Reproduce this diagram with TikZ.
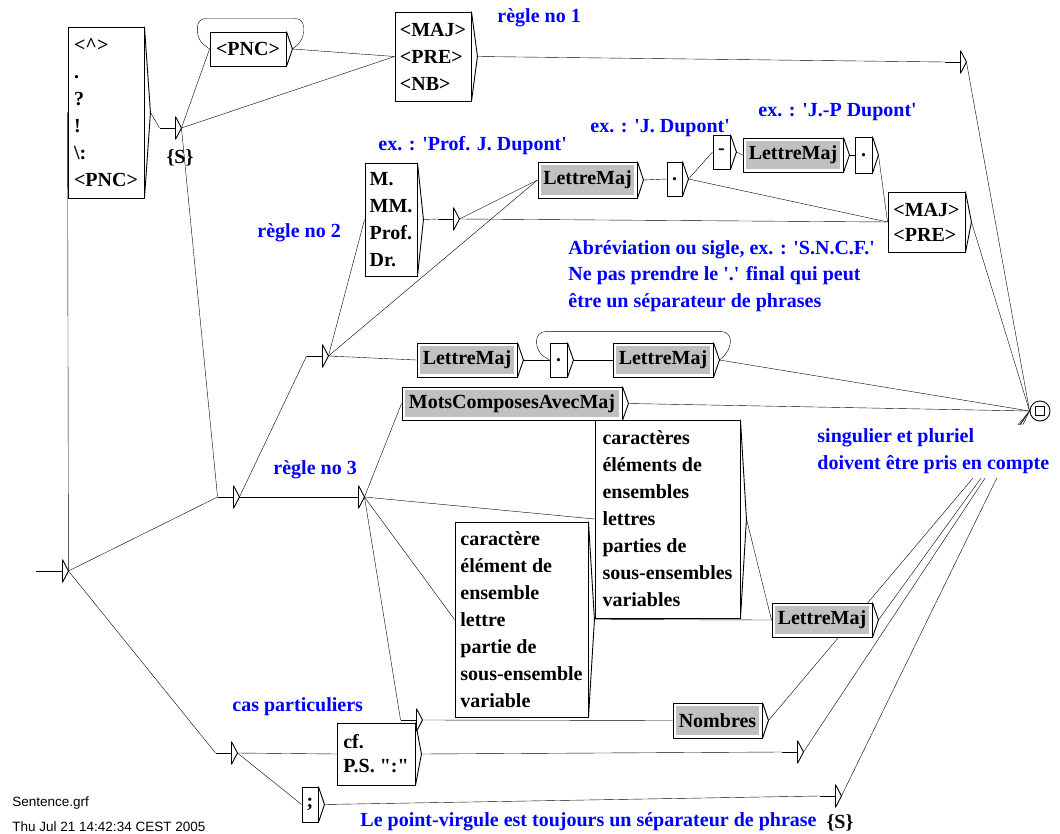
\documentclass[tikz,border=0pt]{standalone}
\usepackage{fontspec}
\setmainfont{Liberation Serif}[Ligatures=TeXOff]
\newfontfamily\footfont{Liberation Sans}
\usepackage{tikz}
\usetikzlibrary{backgrounds}
\definecolor{NoteBlue}{RGB}{0,0,255}
\definecolor{SubGray}{RGB}{192,192,192}
\newcommand{\bxfont}{\fontsize{20}{27}\selectfont\bfseries}

\tikzset{
  box/.style={draw, fill=white, inner sep=0pt, align=left, font=\bxfont},
  sub/.style={box, path picture={\fill[SubGray]
      ([xshift=3pt,yshift=-3pt]path picture bounding box.north west) rectangle
      ([xshift=-3pt,yshift=3pt]path picture bounding box.south east);}},
  eps/.style={minimum width=15pt, minimum height=22pt, inner sep=0pt},
  note/.style={text=NoteBlue, font=\bxfont, align=left, inner sep=0pt, anchor=west},
  sz/.style 2 args={minimum width=#1pt, minimum height=#2pt}
}

\begin{document}
\begin{tikzpicture}[x=1pt, y=-1pt, line width=0.9pt]
\useasboundingbox (0,0) rectangle (1060,834);

% boites
\node[box, sz={76}{171}] (punct) at (106,112.5) {<\textasciicircum>\\.\\?\\!\\\textbackslash:\\<PNC>};
\node[box, sz={76}{34}] (pnc) at (248,49) {<PNC>};
\node[box, sz={76}{89}] (majpre) at (433,56.5) {<MAJ>\\<PRE>\\<NB>};
\node[box, sz={52}{113}] (titres) at (391,219.5) {M.\\MM.\\Prof.\\Dr.};
\node[sub, sz={99}{36}] (lm1) at (587.5,180) {LettreMaj};
\node[box, sz={15}{34}] (pt1) at (674.5,179) {.};
\node[box, sz={17}{34}] (tiret) at (721.5,152) {-};
\node[sub, sz={100}{34}] (lm2) at (793,155) {LettreMaj};
\node[box, sz={17}{36}] (pt2) at (863.5,155) {.};
\node[box, sz={77}{60}] (majpre2) at (926.5,222) {<MAJ>\\[-2pt]<PRE>};
\node[sub, sz={100}{34}] (lm3) at (467,360) {LettreMaj};
\node[box, sz={17}{34}] (pt3) at (558.5,360) {.};
\node[sub, sz={100}{34}] (lm4) at (663,360) {LettreMaj};
\node[sub, sz={220}{33}] (mcomp) at (512,403.5) {MotsComposesAvecMaj};
\node[box, sz={145}{198}] (pluriel) at (667.5,519) {caractères\\éléments de\\ensembles\\lettres\\parties de\\sous-ensembles\\variables};
\node[box, sz={133}{195}] (singulier) at (521.5,619.5) {caractère\\élément de\\ensemble\\lettre\\partie de\\sous-ensemble\\variable};
\node[sub, sz={100}{34}] (lm5) at (822,620) {LettreMaj};
\node[sub, sz={89}{35}] (nombres) at (717.5,720.5) {Nombres};
\node[box, sz={78}{62}] (cf) at (376,754) {cf.\\[-3pt]P.S. ":"};
\node[box, sz={16}{35}] (pv) at (310,804.5) {;};
\node[circle, draw, minimum size=20pt, inner sep=0pt] (fin) at (1040,411) {};
\draw ([shift={(-4.5pt,-4.5pt)}]fin.center) rectangle ([shift={(4.5pt,4.5pt)}]fin.center);

% boites vides
\node[eps, minimum width=26pt] (e0) at (49,571) {};
\foreach \n/\x/\y in {e1/167.5/128, e2/952.5/62, e3/225.5/497, e4/314.5/356,
    e5/445.5/219, e6/350.5/497, e7/223.5/753, e8/408.5/720, e9/789.5/752, e10/827.5/796}
  \node[eps] (\n) at (\x,\y) {};
\foreach \n in {e0,e1,e2,e3,e4,e5,e6,e7,e8,e9,e10}
  \draw (\n.west) -- (\n.east) (\n.north east) -- (\n.south east);

% sorties
\foreach \n in {punct,pnc,majpre,titres,lm1,pt1,tiret,lm2,pt2,majpre2,lm3,pt3,lm4,mcomp,
    pluriel,singulier,lm5,nombres,cf,pv,e0,e1,e2,e3,e4,e5,e6,e7,e8,e9,e10}
  \draw (\n.north east) -- ([xshift=6pt]\n.east) -- (\n.south east);

% transitions
\begin{scope}[on background layer]
\foreach \a/\b in {e0/punct, e0/e3, e0/e7, punct/e1, e1/pnc, e1/majpre, e1/e3, pnc/majpre,
    majpre/e2, e3/e4, e3/e6, e4/titres, e4/lm1, e4/lm3, titres/e5, e5/lm1, e5/majpre2,
    lm1/pt1, pt1/tiret, pt1/majpre2, tiret/lm2, lm2/pt2, pt2/majpre2, lm3/pt3, pt3/lm4,
    e6/mcomp, e6/pluriel, e6/singulier, e6/e8, pluriel/lm5, singulier/lm5, e8/nombres,
    e7/cf, e7/pv, cf/e9, pv/e10}
  \draw ([xshift=6pt]\a.east) -- (\b.west);
\foreach \a in {e2,majpre2,lm4,mcomp,lm5,nombres,e9,e10}
  \draw ([xshift=6pt]\a.east) -- (fin.west);
% boucles
\draw[rounded corners=8pt] ([xshift=6pt]pnc.east) -- ([xshift=17pt,yshift=9pt]pnc.east)
  -- ([xshift=17pt,yshift=13pt]pnc.north east) -- ([xshift=-12pt,yshift=13pt]pnc.north west)
  -- ([xshift=-12pt,yshift=9pt]pnc.west) -- (pnc.west);
\draw[rounded corners=9pt] ([xshift=6pt]lm4.east) -- ([xshift=17pt,yshift=10pt]lm4.east)
  -- ([xshift=17pt,yshift=11pt]lm4.north east) -- ([xshift=-13pt,yshift=11pt]pt3.north west)
  -- ([xshift=-13pt,yshift=8pt]pt3.west) -- (pt3.west);
\end{scope}

% sorties {S}
\node[font=\bxfont, inner sep=0pt] (s1out) at (180,158) {\{S\}};
\node[font=\bxfont, inner sep=0pt] (s2out) at (840,823) {\{S\}};

% commentaires
\node[note] (r1) at (497,18) {règle no 1};
\node[note] (r2) at (257,233) {règle no 2};
\node[note] (r3) at (273,470) {règle no 3};
\node[note] (ex1) at (378,146) {ex. : 'Prof. J. Dupont'};
\node[note] (ex2) at (590,128) {ex. : 'J. Dupont'};
\node[note] (ex3) at (758,112) {ex. : 'J.-P Dupont'};
\node[note, font=\fontsize{20}{26.5}\selectfont\bfseries] (abrev) at (568,276)
  {Abréviation ou sigle, ex. : 'S.N.C.F.'\\Ne pas prendre le '.' final qui peut\\être un séparateur de phrases};
\node[note, fill=white, inner ysep=4pt] (nombre) at (817,451.5) {singulier et pluriel\\doivent être pris en compte};
\node[note] (cas) at (232,707) {cas particuliers};
\node[note] (pvnote) at (360,822) {Le point-virgule est toujours un séparateur de phrase};

% pied
\node[anchor=west, inner sep=0pt, font=\footfont\fontsize{13.5}{16}\selectfont] (fichier) at (12,803) {Sentence.grf};
\node[anchor=west, inner sep=0pt, font=\footfont\fontsize{13.5}{16}\selectfont] (date) at (12,827) {Thu Jul 21 14:42:34 CEST 2005};
\end{tikzpicture}
\end{document}
